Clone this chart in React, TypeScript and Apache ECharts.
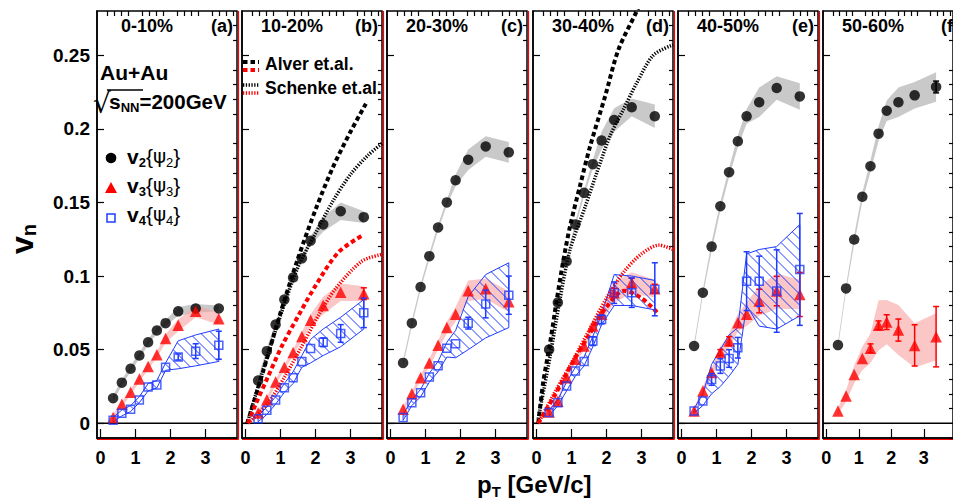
import React, { useEffect, useRef } from "react";
import * as echarts from "echarts";

const FONT = '"Liberation Sans", Arial, Helvetica, sans-serif';

const PT = [0.36, 0.61, 0.86, 1.11, 1.36, 1.61, 1.86, 2.22, 2.72, 3.38];
const CENTRALITY = ["0-10%", "10-20%", "20-30%", "30-40%", "40-50%", "50-60%"];
const PANEL_TAG = ["(a)", "(b)", "(c)", "(d)", "(e)", "(f)"];
const X_TICKS = [0, 1, 2, 3];
const Y_TICKS = [0, 0.05, 0.1, 0.15, 0.2, 0.25];

const V2 = [
  [0.017, 0.0276, 0.037, 0.046, 0.055, 0.063, 0.068, 0.076, 0.078, 0.078],
  [0.029, 0.049, 0.067, 0.084, 0.099, 0.112, 0.124, 0.135, 0.144, 0.14],
  [0.041, 0.068, 0.0925, 0.1135, 0.133, 0.15, 0.165, 0.179, 0.188, 0.184],
  [0.05, 0.082, 0.11, 0.135, 0.1565, 0.176, 0.192, 0.206, 0.2146, 0.2085],
  [0.0525, 0.0887, 0.12, 0.1474, 0.1705, 0.1915, 0.2085, 0.218, 0.2277, 0.222],
  [0.0531, 0.0916, 0.1248, 0.1538, 0.1746, 0.1967, 0.2123, 0.218, 0.2227, 0.2284],
];
const V2_SYS = [
  [0.002, 0.002, 0.002, 0.002, 0.002, 0.002, 0.002, 0.003, 0.003, 0.002],
  [0.002, 0.002, 0.002, 0.002, 0.002, 0.002, 0.003, 0.005, 0.006, 0.004],
  [0.002, 0.002, 0.002, 0.002, 0.002, 0.002, 0.004, 0.007, 0.007, 0.007],
  [0.002, 0.002, 0.002, 0.002, 0.002, 0.003, 0.006, 0.008, 0.006, 0.008],
  [0.002, 0.002, 0.003, 0.003, 0.003, 0.004, 0.005, 0.01, 0.008, 0.009],
  [0.002, 0.002, 0.003, 0.003, 0.004, 0.005, 0.007, 0.01, 0.009, 0.01],
];
const V2_ERR = [
  [0, 0, 0, 0, 0, 0, 0, 0, 0, 0],
  [0, 0, 0, 0, 0, 0, 0, 0, 0, 0],
  [0, 0, 0, 0, 0, 0, 0, 0, 0, 0],
  [0, 0, 0, 0, 0, 0, 0, 0, 0, 0],
  [0, 0, 0, 0, 0, 0, 0, 0, 0, 0],
  [0, 0, 0, 0, 0, 0, 0, 0, 0, 0.004],
];

const V3 = [
  [0.004, 0.013, 0.021, 0.03, 0.0385, 0.0466, 0.0575, 0.0665, 0.076, 0.071],
  [0.007, 0.016, 0.028, 0.038, 0.048, 0.059, 0.07, 0.08, 0.089, 0.088],
  [0.0095, 0.02, 0.031, 0.041, 0.053, 0.065, 0.074, 0.09, 0.0914, 0.0826],
  [0.0077, 0.015, 0.031, 0.0434, 0.0524, 0.066, 0.074, 0.0887, 0.0955, 0.0914],
  [0.0083, 0.022, 0.0344, 0.048, 0.0558, 0.0683, 0.074, 0.083, 0.0898, 0.0875],
  [0.0083, 0.0185, 0.0332, 0.044, 0.0509, 0.0665, 0.0687, 0.0633, 0.0529, 0.0588],
];
const V3_SYS = [
  [0.002, 0.002, 0.002, 0.002, 0.002, 0.002, 0.003, 0.004, 0.004, 0.004],
  [0.002, 0.002, 0.002, 0.002, 0.002, 0.003, 0.004, 0.006, 0.006, 0.005],
  [0.002, 0.002, 0.002, 0.003, 0.003, 0.004, 0.005, 0.007, 0.007, 0.007],
  [0.002, 0.002, 0.002, 0.002, 0.003, 0.003, 0.004, 0.007, 0.007, 0.006],
  [0.002, 0.003, 0.003, 0.004, 0.005, 0.006, 0.008, 0.01, 0.012, 0.01],
  [0.002, 0.004, 0.006, 0.008, 0.01, 0.017, 0.015, 0.017, 0.015, 0.016],
];
const V3_ERR = [
  [0, 0, 0, 0, 0, 0, 0, 0, 0, 0],
  [0, 0, 0, 0, 0, 0, 0, 0, 0, 0.004],
  [0, 0, 0, 0, 0, 0, 0, 0, 0, 0],
  [0, 0, 0, 0, 0, 0, 0, 0.003, 0.003, 0.003],
  [0, 0, 0, 0.002, 0.003, 0, 0, 0.008, 0.01, 0.015],
  [0, 0, 0, 0, 0.003, 0.003, 0.005, 0.0075, 0.014, 0.0205],
];

const V4 = [
  [0.002, 0.0068, 0.0095, 0.0158, 0.0246, 0.026, 0.038, 0.045, 0.049, 0.053],
  [0.003, 0.0088, 0.0158, 0.0242, 0.031, 0.042, 0.0507, 0.055, 0.061, 0.075],
  [0.0039, 0.014, 0.0208, 0.0314, 0.039, 0.0509, 0.054, 0.068, 0.081, 0.087],
  [0.0073, 0.014, 0.0253, 0.0355, 0.042, 0.0558, 0.0705, 0.0887, 0.0887, 0.091],
  [0.0083, 0.0151, 0.0298, 0.0389, 0.044, 0.0513, 0.0965, 0.0965, 0.0898, 0.1045],
  [],
];
const V4_ERR = [
  [0, 0, 0, 0, 0, 0, 0, 0.002, 0.005, 0.0095],
  [0, 0, 0, 0, 0, 0, 0, 0.003, 0.006, 0.01],
  [0, 0, 0, 0, 0, 0, 0, 0.004, 0.0094, 0.013],
  [0, 0, 0, 0, 0, 0.003, 0.003, 0.0073, 0.01, 0.018],
  [0, 0, 0.004, 0.005, 0.006, 0.007, 0.02, 0.017, 0.028, 0.038],
  [],
];
const V4_SYS_HI = [
  [0.004, 0.009, 0.012, 0.018, 0.027, 0.029, 0.041, 0.056, 0.06, 0.064],
  [0.005, 0.011, 0.018, 0.027, 0.035, 0.046, 0.057, 0.064, 0.072, 0.084],
  [0.006, 0.016, 0.023, 0.034, 0.042, 0.055, 0.063, 0.086, 0.101, 0.109],
  [0.009, 0.016, 0.028, 0.038, 0.045, 0.059, 0.074, 0.101, 0.1, 0.097],
  [0.01, 0.02, 0.04, 0.05, 0.06, 0.065, 0.115, 0.118, 0.12, 0.135],
  [],
];
const V4_SYS_LO = [
  [0.001, 0.005, 0.008, 0.014, 0.022, 0.024, 0.036, 0.037, 0.039, 0.042],
  [0.001, 0.006, 0.013, 0.021, 0.027, 0.038, 0.041, 0.046, 0.052, 0.064],
  [0.002, 0.012, 0.018, 0.028, 0.035, 0.045, 0.0445, 0.05, 0.058, 0.065],
  [0.005, 0.012, 0.022, 0.032, 0.039, 0.052, 0.067, 0.08, 0.08, 0.077],
  [0.007, 0.012, 0.02, 0.025, 0.032, 0.04, 0.08, 0.066, 0.064, 0.073],
  [],
];

// model curves [pT, vn]
const ALVER_V2_B = [[0.05, 0], [0.5, 0.035], [1.0, 0.075], [1.5, 0.112], [2.0, 0.145], [2.5, 0.174], [3.0, 0.198], [3.44, 0.217]];
const SCHENKE_V2_B = [[0.05, 0], [0.5, 0.036], [1.0, 0.073], [1.5, 0.106], [2.0, 0.129], [2.5, 0.151], [3.0, 0.169], [3.5, 0.182], [3.9, 0.19]];
const ALVER_V3_B = [[0.07, 0], [0.27, 0.0118], [0.65, 0.032], [1.03, 0.052], [1.51, 0.073], [1.99, 0.093], [2.65, 0.116], [3.37, 0.128]];
const SCHENKE_V3_B = [[0.08, 0], [0.65, 0.014], [1.13, 0.032], [1.6, 0.052], [2.08, 0.073], [2.56, 0.091], [3.32, 0.11], [3.9, 0.1147]];
const ALVER_V2_D = [[0.05, 0], [0.19, 0.0276], [0.39, 0.0548], [0.58, 0.084], [0.77, 0.111], [0.96, 0.134], [1.24, 0.161], [1.53, 0.188], [1.96, 0.222], [2.34, 0.2537], [2.86, 0.2797], [2.95, 0.285]];
const SCHENKE_V2_D = [[0.05, 0.003], [0.39, 0.0457], [0.67, 0.084], [0.96, 0.118], [1.39, 0.147], [1.72, 0.17], [2.1, 0.195], [2.48, 0.213], [2.86, 0.231], [3.34, 0.25], [3.9, 0.257]];
const ALVER_V3_D = [[0.05, 0], [0.5, 0.018], [1.0, 0.04], [1.5, 0.06], [2.0, 0.079], [2.5, 0.09], [3.0, 0.085], [3.5, 0.074]];
const SCHENKE_V3_D = [[0.05, 0], [0.5, 0.02], [1.0, 0.041], [1.5, 0.063], [2.0, 0.085], [2.5, 0.103], [3.0, 0.115], [3.5, 0.121], [3.9, 0.118]];

// layout
const PANEL_LEFT = [97, 242, 387, 533, 678, 823];
const PANEL_W = 140;
const PANEL_TOP = 11;
const PANEL_H = 427;
const X_MIN = -0.1, X_MAX = 3.9, Y_MIN = -0.01, Y_MAX = 0.28;

const BLUE = "#1f3cff";
const RED = "#ff0000";

let measureCtx: CanvasRenderingContext2D | null = null;
function textWidth(t: string, font: string) {
  if (!measureCtx) measureCtx = document.createElement("canvas").getContext("2d");
  measureCtx!.font = font;
  return measureCtx!.measureText(t).width;
}
type Piece = { t: string; s: number; w?: string; dy?: number; f?: string };
function pieces(x0: number, y: number, arr: Piece[]) {
  const out: any[] = [];
  let x = x0;
  for (const p of arr) {
    const fam = p.f || FONT;
    const w = p.w || "bold";
    out.push({
      type: "text", x, y: y + (p.dy || 0), silent: true,
      style: { text: p.t, fontSize: p.s, fontWeight: w, fontFamily: fam, fill: "#000", align: "left", verticalAlign: "middle", textAlign: "left", textVerticalAlign: "middle" },
    });
    x += textWidth(p.t, `${w} ${p.s}px ${fam}`);
  }
  return out;
}
function txt(x: number, y: number, t: string, s: number, align = "left", w = "bold") {
  return { type: "text", x, y, silent: true, style: { text: t, fontSize: s, fontWeight: w, fontFamily: FONT, fill: "#000", align, verticalAlign: "middle", textAlign: align, textVerticalAlign: "middle" } };
}

function bandSeries(p: number, lo: number[], hi: number[], fill: string, hatch: boolean) {
  return {
    type: "custom", xAxisIndex: 2 * p, yAxisIndex: 2 * p, z: 1, silent: true,
    data: [[PT[0], lo[0]]], encode: { x: 0, y: 1 },
    renderItem: (_params: any, api: any) => {
      const up = PT.map((x, i) => api.coord([x, hi[i]]));
      const dn = PT.map((x, i) => api.coord([x, lo[i]]));
      const pts = up.concat(dn.slice().reverse());
      if (!hatch) return { type: "polygon", shape: { points: pts }, style: { fill, stroke: "none" } };
      const children: any[] = [{ type: "polygon", shape: { points: pts }, style: { fill: "none", stroke: BLUE, lineWidth: 1 } }];
      const cs = pts.map((q: number[]) => q[1] - q[0]);
      const step = 11;
      const cmin = Math.min(...cs), cmax = Math.max(...cs);
      for (let c = Math.ceil(cmin / step) * step + 0.5; c <= cmax; c += step) {
        const xs: number[] = [];
        for (let k = 0; k < pts.length; k++) {
          const a = pts[k], b = pts[(k + 1) % pts.length];
          const fa = a[1] - a[0] - c, fb = b[1] - b[0] - c;
          if ((fa < 0) !== (fb < 0)) { const t = fa / (fa - fb); xs.push(a[0] + t * (b[0] - a[0])); }
        }
        xs.sort((m, n) => m - n);
        for (let k = 0; k + 1 < xs.length; k += 2)
          children.push({ type: "line", shape: { x1: xs[k], y1: xs[k] + c, x2: xs[k + 1], y2: xs[k + 1] + c }, style: { stroke: BLUE, lineWidth: 1 } });
      }
      return { type: "group", children };
    },
  };
}

function errSeries(p: number, vals: number[], errs: number[], color: string) {
  const data = PT.map((x, i) => [x, vals[i], errs[i]]).filter((d) => d[2] > 0);
  return {
    type: "custom", xAxisIndex: 2 * p, yAxisIndex: 2 * p, z: 4, silent: true, data, encode: { x: 0, y: 1 },
    renderItem: (_params: any, api: any) => {
      const x = api.value(0), y = api.value(1), e = api.value(2);
      const t = api.coord([x, y + e]), b = api.coord([x, y - e]);
      const st = { stroke: color, lineWidth: 1.5 };
      return {
        type: "group", children: [
          { type: "line", shape: { x1: t[0], y1: t[1], x2: b[0], y2: b[1] }, style: st },
          { type: "line", shape: { x1: t[0] - 3, y1: t[1], x2: t[0] + 3, y2: t[1] }, style: st },
          { type: "line", shape: { x1: b[0] - 3, y1: b[1], x2: b[0] + 3, y2: b[1] }, style: st },
        ],
      };
    },
  };
}

function modelLine(p: number, data: number[][], color: string, dotted: boolean) {
  return {
    type: "line", xAxisIndex: 2 * p, yAxisIndex: 2 * p, z: 2, silent: true, smooth: 0.3, showSymbol: false, symbol: "none",
    data, clip: true,
    lineStyle: { color, width: dotted ? 3.5 : 4, type: dotted ? [1.3, 1.5] : [4.5, 3] },
  };
}

function scatter(p: number, vals: number[], kind: "c" | "t" | "s") {
  const base: any = { type: "scatter", xAxisIndex: 2 * p, yAxisIndex: 2 * p, z: 3, silent: true, data: PT.map((x, i) => [x, vals[i]]) };
  if (kind === "c") return { ...base, symbol: "circle", symbolSize: 10.5, itemStyle: { color: "#000" } };
  if (kind === "t") return { ...base, symbol: "triangle", symbolSize: 11.5, itemStyle: { color: RED } };
  return { ...base, symbol: "rect", symbolSize: 8, itemStyle: { color: "rgba(255,255,255,0)", borderColor: BLUE, borderWidth: 1.5 } };
}

function buildOption() {
  const grid: any[] = [], xAxis: any[] = [], yAxis: any[] = [], series: any[] = [];
  const xMinor: number[] = [];
  for (let v = 0.2; v < 3.9; v += 0.2) if (Math.abs(v - Math.round(v)) > 0.01) xMinor.push(+v.toFixed(1));
  const yMinor: number[] = [];
  for (let v = -0.01; v < 0.28; v += 0.01) if (Math.abs(v / 0.05 - Math.round(v / 0.05)) > 0.01) yMinor.push(+v.toFixed(2));
  const tickStyle = { color: "#000", width: 1.2 };
  PANEL_LEFT.forEach((left, p) => {
    grid.push({ left, top: PANEL_TOP, width: PANEL_W, height: PANEL_H, show: true, borderColor: "#000", borderWidth: 1.5, backgroundColor: "#fff" });
    xAxis.push({
      type: "value", gridIndex: p, min: X_MIN, max: X_MAX,
      axisLine: { show: true, onZero: false, lineStyle: { color: "#000", width: 1.5 } },
      axisTick: { show: true, inside: true, length: 9, customValues: X_TICKS, lineStyle: tickStyle },
      axisLabel: { show: true, customValues: X_TICKS, margin: 11, fontSize: 18, fontWeight: "bold", fontFamily: FONT, color: "#000", formatter: (v: number) => String(v) },
      splitLine: { show: false },
    });
    xAxis.push({
      type: "value", gridIndex: p, min: X_MIN, max: X_MAX,
      axisLine: { show: false, onZero: false },
      axisTick: { show: true, inside: true, length: 5, customValues: xMinor, lineStyle: tickStyle },
      axisLabel: { show: false }, splitLine: { show: false },
    });
    yAxis.push({
      type: "value", gridIndex: p, min: Y_MIN, max: Y_MAX,
      axisLine: { show: true, onZero: false, lineStyle: { color: "#000", width: 1.5 } },
      axisTick: { show: true, inside: true, length: 7, customValues: Y_TICKS, lineStyle: tickStyle },
      axisLabel: {
        show: p === 0, customValues: Y_TICKS, margin: 7, fontSize: 19, fontWeight: "bold", fontFamily: FONT, color: "#000",
        formatter: (v: number) => (v === 0 ? "0" : String(+v.toFixed(2))),
      },
      splitLine: { show: false },
    });
    yAxis.push({
      type: "value", gridIndex: p, min: Y_MIN, max: Y_MAX,
      axisLine: { show: false, onZero: false },
      axisTick: { show: true, inside: true, length: 4, customValues: yMinor, lineStyle: tickStyle },
      axisLabel: { show: false }, splitLine: { show: false },
    });
    // zero line
    series.push({ type: "line", xAxisIndex: 2 * p, yAxisIndex: 2 * p, z: 0, silent: true, symbol: "none", data: [[X_MIN, 0], [X_MAX, 0]], lineStyle: { color: "#000", width: 1.5 } });
    // bands
    series.push(bandSeries(p, V2[p].map((v, i) => v - V2_SYS[p][i]), V2[p].map((v, i) => v + V2_SYS[p][i]), "#c9c9c9", false));
    series.push(bandSeries(p, V3[p].map((v, i) => v - V3_SYS[p][i]), V3[p].map((v, i) => v + V3_SYS[p][i]), "rgba(248,160,160,0.6)", false));
    if (V4[p].length) series.push(bandSeries(p, V4_SYS_LO[p], V4_SYS_HI[p], "none", true));
    if (p === 1) {
      series.push(modelLine(p, ALVER_V2_B, "#000", false));
      series.push(modelLine(p, SCHENKE_V2_B, "#000", true));
      series.push(modelLine(p, ALVER_V3_B, RED, false));
      series.push(modelLine(p, SCHENKE_V3_B, RED, true));
    }
    if (p === 3) {
      series.push(modelLine(p, ALVER_V2_D, "#000", false));
      series.push(modelLine(p, SCHENKE_V2_D, "#000", true));
      series.push(modelLine(p, ALVER_V3_D, RED, false));
      series.push(modelLine(p, SCHENKE_V3_D, RED, true));
    }
    series.push(scatter(p, V2[p], "c"));
    series.push(scatter(p, V3[p], "t"));
    if (V4[p].length) series.push(scatter(p, V4[p], "s"));
    series.push(errSeries(p, V2[p], V2_ERR[p], "#000"));
    series.push(errSeries(p, V3[p], V3_ERR[p], RED));
    if (V4[p].length) series.push(errSeries(p, V4[p], V4_ERR[p], BLUE));
  });

  const g: any[] = [];
  PANEL_LEFT.forEach((left, p) => {
    g.push(txt(left + 50, 26, CENTRALITY[p], 18, "center"));
    g.push(txt(left + 136, 26, PANEL_TAG[p], 18, "right"));
    if (p < 5) {
      g.push({ type: "line", silent: true, shape: { x1: left + PANEL_W + 1.5, y1: PANEL_TOP, x2: left + PANEL_W + 1.5, y2: PANEL_TOP + PANEL_H + 1.5 }, style: { stroke: RED, lineWidth: 1.2 } });
    }
    g.push({ type: "line", silent: true, shape: { x1: left, y1: PANEL_TOP + PANEL_H + 1.5, x2: left + PANEL_W + 1.5, y2: PANEL_TOP + PANEL_H + 1.5 }, style: { stroke: RED, lineWidth: 1 } });
  });
  // panel (a) labels
  g.push(txt(100, 72, "Au+Au", 21));
  g.push({ type: "text", x: 93, y: 103, silent: true, style: { text: "√", fontSize: 28, fontFamily: '"DejaVu Sans", sans-serif', fill: "#000", align: "left", verticalAlign: "middle", textAlign: "left", textVerticalAlign: "middle" } });
  g.push({ type: "line", silent: true, shape: { x1: 107, y1: 90, x2: 143, y2: 90 }, style: { stroke: "#000", lineWidth: 1.5 } });
  g.push(...pieces(109, 101, [{ t: "s", s: 21 }, { t: "NN", s: 13, dy: 6 }, { t: "=200GeV", s: 20.5 }]));
  // legend a
  g.push({ type: "circle", silent: true, shape: { cx: 111, cy: 158, r: 5.3 }, style: { fill: "#000" } });
  g.push({ type: "polygon", silent: true, shape: { points: [[111, 182], [117, 193], [105, 193]] }, style: { fill: RED } });
  g.push({ type: "rect", silent: true, shape: { x: 107, y: 214, width: 8, height: 8 }, style: { fill: "none", stroke: BLUE, lineWidth: 1.5 } });
  const leg = (y: number, n: string) => pieces(127, y, [
    { t: "v", s: 21 }, { t: n, s: 13, dy: 6 }, { t: "{", s: 21, w: "normal" }, { t: "ψ", s: 20, w: "normal", f: '"DejaVu Sans", sans-serif' }, { t: n, s: 13, dy: 6, w: "normal" }, { t: "}", s: 21, w: "normal" },
  ]);
  g.push(...leg(156, "2"), ...leg(185, "3"), ...leg(214, "4"));
  // legend b
  g.push({ type: "line", silent: true, shape: { x1: 243, y1: 62, x2: 259, y2: 62 }, style: { stroke: "#000", lineWidth: 4, lineDash: [4.5, 3] } });
  g.push({ type: "line", silent: true, shape: { x1: 243, y1: 70, x2: 259, y2: 70 }, style: { stroke: RED, lineWidth: 4, lineDash: [4.5, 3] } });
  g.push({ type: "line", silent: true, shape: { x1: 243, y1: 85, x2: 259, y2: 85 }, style: { stroke: "#000", lineWidth: 3.5, lineDash: [1.3, 1.5] } });
  g.push({ type: "line", silent: true, shape: { x1: 243, y1: 93, x2: 259, y2: 93 }, style: { stroke: RED, lineWidth: 3.5, lineDash: [1.3, 1.5] } });
  g.push(txt(265, 64, "Alver et.al.", 17.5));
  g.push(txt(265, 88, "Schenke et.al.", 17.5));
  // axis titles
  g.push({ type: "group", x: 22, y: 240, rotation: Math.PI / 2, silent: true, children: pieces(-14, 0, [{ t: "v", s: 32 }, { t: "n", s: 20, dy: 7 }]) });
  g.push(...pieces(477, 484, [{ t: "p", s: 24 }, { t: "T", s: 15, dy: 7 }, { t: " [GeV/c]", s: 24 }]));

  return { animation: false, backgroundColor: "#fff", grid, xAxis, yAxis, series, graphic: { elements: g } };
}

export default function App() {
  const ref = useRef<HTMLDivElement>(null);
  useEffect(() => {
    const chart = echarts.init(ref.current!, undefined, { renderer: "svg" });
    chart.setOption(buildOption() as any);
    return () => chart.dispose();
  }, []);
  return <div ref={ref} style={{ position: "absolute", left: 0, top: 0, width: 953, height: 502 }} />;
}
